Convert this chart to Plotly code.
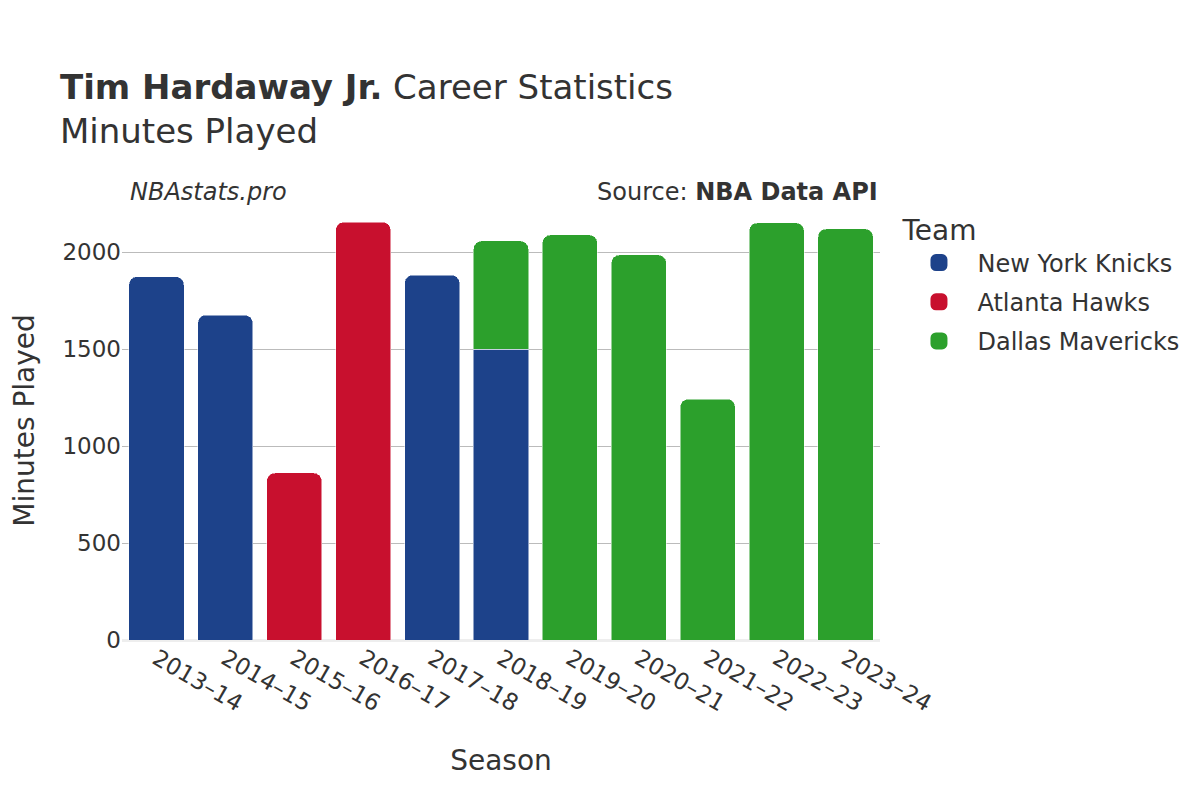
import plotly.graph_objects as go

seasons = ["2013–14", "2014–15", "2015–16", "2016–17", "2017–18", "2018–19",
           "2019–20", "2020–21", "2021–22", "2022–23", "2023–24"]

knicks_seasons = ["2013–14", "2014–15", "2017–18", "2018–19"]
knicks_minutes = [1873, 1675, 1881, 1500]

hawks_seasons = ["2015–16", "2016–17"]
hawks_minutes = [861, 2154]

mavs_seasons = ["2018–19", "2019–20", "2020–21", "2021–22", "2022–23", "2023–24"]
mavs_minutes = [557, 2088, 1985, 1242, 2150, 2119]

teams = [
    ("New York Knicks", knicks_seasons, knicks_minutes, "#1D428A"),
    ("Atlanta Hawks", hawks_seasons, hawks_minutes, "#C8102E"),
    ("Dallas Mavericks", mavs_seasons, mavs_minutes, "#2CA02C"),
]

fig = go.Figure()
for name, xs, ys, color in teams:
    fig.add_trace(go.Bar(
        x=xs, y=ys, name=name, legendgroup=name, showlegend=False,
        marker=dict(color=color, line=dict(color="rgba(255,255,255,0.5)", width=1)),
    ))
# legend-only entries with larger icons
for name, xs, ys, color in teams:
    fig.add_trace(go.Bar(
        x=[None], y=[None], name=name, legendgroup=name, showlegend=True,
        marker=dict(color=color, line=dict(color=color, width=5)),
        hoverinfo="skip",
    ))

fig.update_layout(
    width=1200, height=800,
    barmode="stack",
    bargap=0.2,
    barcornerradius=8,
    plot_bgcolor="white",
    paper_bgcolor="white",
    font=dict(family="DejaVu Sans", color="#333333", size=23),
    margin=dict(l=114, r=328, t=193, b=168, autoexpand=False),
    title=dict(
        text="<b>Tim Hardaway Jr.</b> Career Statistics<br>Minutes Played",
        x=0.0433, xanchor="left", xref="container",
        y=0.886, yanchor="top", yref="container",
        font=dict(size=34, color="#333333"),
    ),
    xaxis=dict(
        categoryorder="array", categoryarray=seasons,
        tickangle=30, tickfont=dict(size=23),
        title=dict(text="Season", font=dict(size=28), standoff=34),
        showgrid=False, automargin=False,
    ),
    yaxis=dict(
        range=[0, 2263],
        tickvals=[0, 500, 1000, 1500, 2000],
        tickfont=dict(size=23),
        title=dict(text="Minutes Played", font=dict(size=28), standoff=30),
        showgrid=True, gridcolor="#bbbbbb", gridwidth=1,
        zeroline=True, zerolinecolor="#eeeeee", zerolinewidth=3,
        automargin=False,
    ),
    legend=dict(
        title=dict(text="Team", font=dict(size=28)),
        font=dict(size=24),
        traceorder="grouped",
        tracegroupgap=5,
        itemwidth=67,
        x=1.027, xanchor="left", y=0.993, yanchor="top",
    ),
    annotations=[
        dict(text="<i>NBAstats.pro</i>", xref="paper", yref="paper",
             x=0.008, y=1.02, xanchor="left", yanchor="middle",
             showarrow=False, font=dict(size=24, color="#333333")),
        dict(text="Source: <b>NBA Data API</b>", xref="paper", yref="paper",
             x=1.0, y=1.02, xanchor="right", yanchor="middle",
             showarrow=False, font=dict(size=24, color="#333333")),
    ],
)

fig.write_html("out.html")
